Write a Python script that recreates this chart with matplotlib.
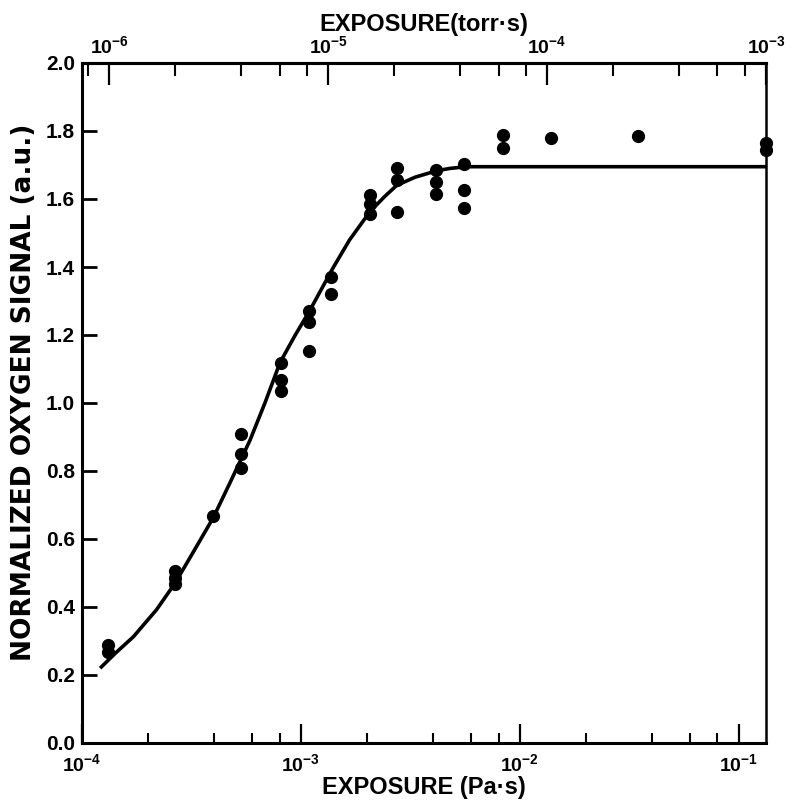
import matplotlib
matplotlib.use("Agg")
import matplotlib.pyplot as plt
from matplotlib.ticker import FixedLocator, NullFormatter, FixedFormatter

# ---- data (Pa·s exposure, normalized oxygen signal) ----
pts_x = [1.31e-4, 1.31e-4,
         2.66e-4, 2.66e-4, 2.66e-4,
         3.98e-4,
         5.35e-4, 5.35e-4, 5.35e-4,
         8.09e-4, 8.09e-4, 8.09e-4,
         1.09e-3, 1.09e-3, 1.09e-3,
         1.37e-3, 1.37e-3,
         2.07e-3, 2.07e-3, 2.07e-3,
         2.75e-3, 2.75e-3, 2.75e-3,
         4.14e-3, 4.14e-3, 4.14e-3,
         5.56e-3, 5.56e-3, 5.56e-3,
         8.38e-3, 8.38e-3,
         1.39e-2,
         3.47e-2,
         1.333e-1, 1.333e-1]
pts_y = [0.289, 0.269,
         0.505, 0.484, 0.468,
         0.668,
         0.909, 0.851, 0.808,
         1.119, 1.067, 1.035,
         1.270, 1.238, 1.154,
         1.372, 1.320,
         1.611, 1.585, 1.555,
         1.690, 1.656, 1.563,
         1.684, 1.651, 1.615,
         1.704, 1.626, 1.573,
         1.789, 1.750,
         1.780,
         1.786,
         1.765, 1.745]

# fitted curve
curve_x = [1.21e-4, 1.42e-4, 1.72e-4, 2.19e-4, 2.66e-4, 3.22e-4, 3.98e-4, 4.74e-4,
           5.85e-4, 6.85e-4, 8.03e-4, 9.39e-4, 1.10e-3, 1.41e-3, 1.67e-3, 2.07e-3,
           2.42e-3, 2.74e-3, 3.32e-3, 4.17e-3, 4.80e-3, 5.71e-3, 1.333e-1]
curve_y = [0.220, 0.264, 0.313, 0.392, 0.470, 0.561, 0.663, 0.765,
           0.890, 1.000, 1.119, 1.198, 1.273, 1.400, 1.480, 1.563,
           1.608, 1.640, 1.664, 1.683, 1.690, 1.695, 1.695]

yticks = [0.0, 0.2, 0.4, 0.6, 0.8, 1.0, 1.2, 1.4, 1.6, 1.8, 2.0]
ytick_labels = ["0.0", "0.2", "0.4", "0.6", "0.8", "1.0", "1.2", "1.4", "1.6", "1.8", "2.0"]
xticks_pa = [1e-4, 1e-3, 1e-2, 1e-1]
xtick_labels_pa = [r"$\mathbf{10^{-4}}$", r"$\mathbf{10^{-3}}$", r"$\mathbf{10^{-2}}$", r"$\mathbf{10^{-1}}$"]
xticks_torr = [1e-6, 1e-5, 1e-4, 1e-3]
xtick_labels_torr = [r"$\mathbf{10^{-6}}$", r"$\mathbf{10^{-5}}$", r"$\mathbf{10^{-4}}$", r"$\mathbf{10^{-3}}$"]
minor_mults = [2, 4, 6, 8]
PA_PER_TORR = 133.32

xlim = (1e-4, 1e-3 * PA_PER_TORR)

plt.rcParams['font.family'] = ['Liberation Sans', 'DejaVu Sans']
plt.rcParams['mathtext.fontset'] = 'custom'
plt.rcParams['mathtext.rm'] = 'Liberation Sans'
plt.rcParams['mathtext.bf'] = 'Liberation Sans:bold'

fig = plt.figure(figsize=(8.02, 8.08), dpi=100)
ax = fig.add_axes([82/802, 1-743/808, 684/802, 680/808])

ax.plot(curve_x, curve_y, color='black', lw=2.6, solid_capstyle='butt',
        solid_joinstyle='round', zorder=2)
ax.plot(pts_x, pts_y, 'o', color='black', ms=8.5, zorder=3, clip_on=False)

ax.set_xscale('log')
ax.set_xlim(*xlim)
ax.set_ylim(0, 2.0)

for s in ax.spines.values():
    s.set_linewidth(2.2)
ax.spines['right'].set_linewidth(1.8)

# bottom axis
ax.xaxis.set_major_locator(FixedLocator(xticks_pa))
ax.xaxis.set_major_formatter(FixedFormatter(xtick_labels_pa))
minors = [m * d for d in [1e-4, 1e-3, 1e-2, 1e-1] for m in minor_mults]
ax.xaxis.set_minor_locator(FixedLocator([v for v in minors if v < xlim[1]]))
ax.xaxis.set_minor_formatter(NullFormatter())
ax.tick_params(axis='x', which='major', direction='in', length=14, width=1.6,
               labelsize=14, pad=7, top=False)
ax.tick_params(axis='x', which='minor', direction='in', length=7, width=1.5, top=False)

# left axis
ax.set_yticks(yticks)
ax.set_yticklabels(ytick_labels, fontweight='bold')
ax.tick_params(axis='y', which='major', direction='in', length=11, width=2.0,
               labelsize=15, pad=5, right=False)

ax.set_xlabel("EXPOSURE (Pa·s)", fontsize=17, fontweight='bold', labelpad=1)
ax.set_ylabel("NORMALIZED OXYGEN SIGNAL (a.u.)", fontsize=19, fontweight='bold',
              family=['DejaVu Sans'])
ax.yaxis.set_label_coords(-0.066, 0.515)

# top axis in torr·s
sec = ax.secondary_xaxis('top', functions=(lambda x: x / PA_PER_TORR, lambda x: x * PA_PER_TORR))
sec.set_xscale('log')
sec.xaxis.set_major_locator(FixedLocator(xticks_torr))
sec.xaxis.set_major_formatter(FixedFormatter(xtick_labels_torr))
tminors = [m * d for d in [1e-7, 1e-6, 1e-5, 1e-4] for m in minor_mults]
sec.xaxis.set_minor_locator(FixedLocator(tminors))
sec.xaxis.set_minor_formatter(NullFormatter())
sec.tick_params(axis='x', which='major', direction='in', length=16, width=1.6,
                labelsize=14, pad=4)
sec.tick_params(axis='x', which='minor', direction='in', length=9, width=1.5)
sec.spines['top'].set_linewidth(2.2)
sec.set_xlabel("EXPOSURE(torr·s)", fontsize=17, fontweight='bold', labelpad=3)

fig.savefig("out.png", dpi=100)
